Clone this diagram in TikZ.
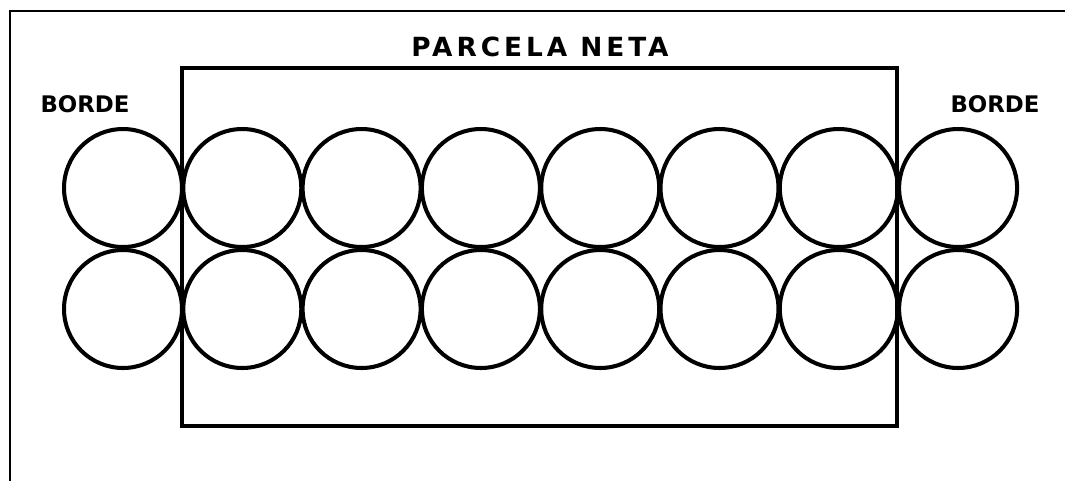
\documentclass[tikz,border=0pt]{standalone}
\usepackage{fontspec}
\setmainfont{DejaVu Sans}
\usetikzlibrary{positioning}
\tikzset{
    parcela/.style={
        x=0.02cm, y=-0.02cm,
        plant/.style={draw, circle, line width=2.3pt, minimum size=2.36cm, inner sep=0pt},
        frame/.style={line width=1.6pt},
        neta/.style={line width=1.8pt},
        titletext/.style={font=\bfseries\fontsize{15}{15}\selectfont\addfontfeatures{LetterSpace=15}, inner sep=0pt},
        bordetext/.style={font=\bfseries\fontsize{13}{13}\selectfont, inner sep=0pt}
    }
}

\begin{document}
\begin{tikzpicture}[parcela]
    \useasboundingbox (0,0) rectangle (1065,481);
    % Marco exterior
    \draw[frame] (1065,11) -- (10,11) -- (10,481);

    % Parcela neta
    \draw[neta] (182,68) rectangle (897,426);
    \node[titletext] (neta) at (540,47) {PARCELA NETA};

    % Bordes
    \node[bordetext] (bordeizq) at (85,104) {BORDE};
    \node[bordetext] (bordeder) at (995,104) {BORDE};

    % Plantas
    \foreach \i in {0,...,7} {
        \node[plant] (p-\i-1) at ({123+119.3*\i},188) {};
        \node[plant] (p-\i-2) at ({123+119.3*\i},309) {};
    }
\end{tikzpicture}
\end{document}
